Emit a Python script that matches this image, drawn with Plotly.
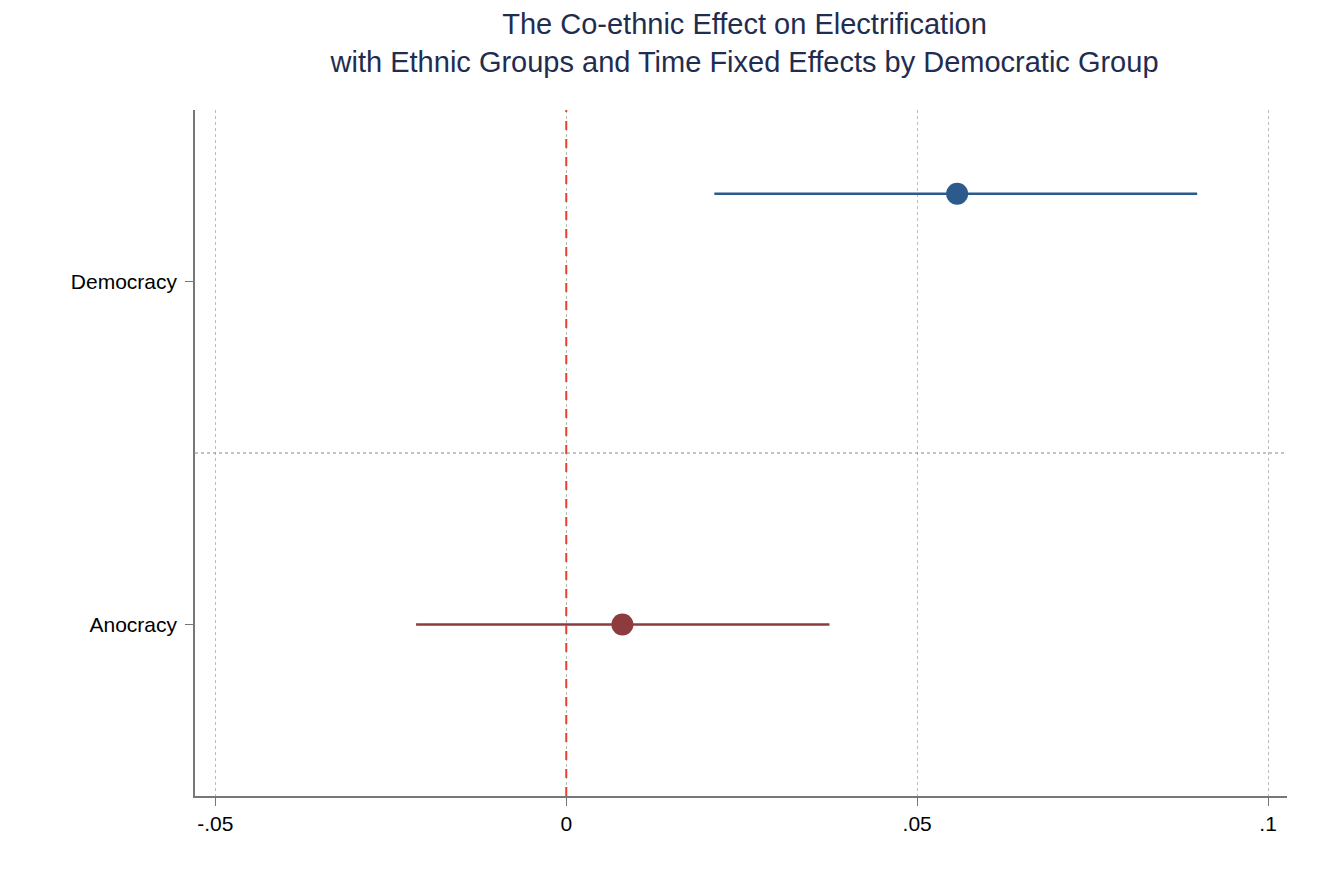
import plotly.graph_objects as go

groups = ["Democracy", "Anocracy"]
tick_pos = [2, 1]
point_y = [2.256, 1.0]
coef = [0.0557, 0.0080]
ci_low = [0.0211, -0.0214]
ci_high = [0.0899, 0.0375]
colors = ["#2c5a8c", "#8e3b3d"]

x_ticks = [-0.05, 0, 0.05, 0.1]
x_labels = ["-.05", "0", ".05", ".1"]

fig = go.Figure()
for g, y, c, lo, hi, col in zip(groups, point_y, coef, ci_low, ci_high, colors):
    fig.add_trace(go.Scatter(x=[lo, hi], y=[y, y], mode="lines",
                             line=dict(color=col, width=2.5), showlegend=False))
    fig.add_trace(go.Scatter(x=[c], y=[y], mode="markers", name=g,
                             marker=dict(color=col, size=22), showlegend=False))

fig.add_vline(x=0, line=dict(color="#e8412c", width=2, dash="dash"))
fig.add_hline(y=1.5, line=dict(color="#888888", width=1, dash="dot"))

fig.update_layout(
    width=1320, height=880,
    margin=dict(l=187, r=41, t=102, b=92),
    plot_bgcolor="white", paper_bgcolor="white",
    font=dict(family="Liberation Sans, Arial", size=21, color="black"),
    title=dict(text="The Co-ethnic Effect on Electrification<br>with Ethnic Groups and Time Fixed Effects by Democratic Group",
               x=0.558, xanchor="center", y=0.97, yanchor="top",
               font=dict(size=29, color="#1f2d50")),
)
fig.update_xaxes(range=[-0.0529, 0.1027], tickvals=x_ticks, ticktext=x_labels,
                 showgrid=True, gridcolor="#bbbbbb", griddash="dot", gridwidth=1,
                 showline=True, linecolor="#777777", linewidth=1.5,
                 ticks="outside", ticklen=8, tickcolor="#777777", zeroline=False)
fig.update_yaxes(range=[0.5, 2.5], tickvals=tick_pos, ticktext=groups,
                 showgrid=False, showline=True, linecolor="#777777", linewidth=1.5,
                 ticks="outside", ticklen=8, tickcolor="#777777", zeroline=False,
                 ticklabelstandoff=4)

fig.write_html("out.html")
